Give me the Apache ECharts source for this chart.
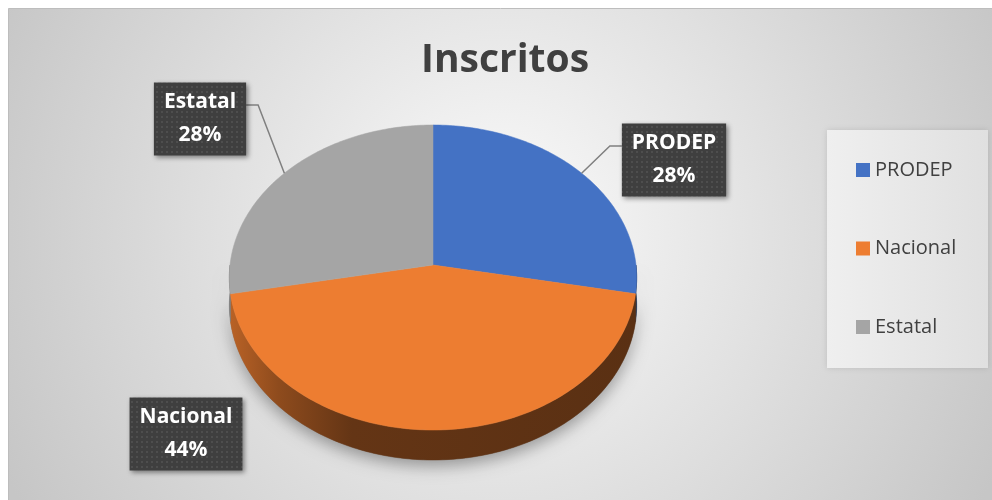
<!DOCTYPE html>
<html>
<head>
<meta charset="utf-8">
<script src="https://cdn.jsdelivr.net/npm/echarts@6/dist/echarts.min.js"></script>
<style>
  html, body { margin: 0; padding: 0; background: #fff; }
  #main { width: 992px; height: 500px; }
</style>
</head>
<body>
<div id="main"></div>
<script>
// data
const categories = ['PRODEP', 'Nacional', 'Estatal'];
const values = [28, 44, 28];

// styles / layout
const colors = ['#4472C4', '#ED7D31', '#A5A5A5'];
const pie = { cx: 433, cy: 265, rx: 203, ry: 151.5, k: 0.082, depth: 27.5 };
const labelPos = [[674, 160], [186, 434], [200, 119]];
const showLeader = [true, false, true];
const labelFont = 'bold 21px "Open Sans"';

const total = values.reduce((a, b) => a + b, 0);

// dotted fill for the data label boxes
const pat = document.createElement('canvas');
pat.width = 5;
pat.height = 5;
const pc = pat.getContext('2d');
pc.fillStyle = '#3f3f3f';
pc.fillRect(0, 0, 5, 5);
pc.fillStyle = '#4e4e4e';
pc.fillRect(1, 1, 2, 2);
const dotPattern = { image: pat, repeat: 'repeat' };

const mctx = document.createElement('canvas').getContext('2d');
mctx.font = labelFont;
function textWidth(t) {
  return mctx.measureText(t).width;
}

// angle in degrees, clockwise from 12 o'clock, with a bit of perspective
function project(deg, drop) {
  const t = deg * Math.PI / 180;
  const u = Math.sin(t), v = -Math.cos(t);
  const s = 1 / (1 - pie.k * v);
  return [pie.cx + pie.rx * u * s, pie.cy + (pie.ry * v + drop) * s];
}

function arc(a, b, drop) {
  const pts = [];
  const n = Math.max(2, Math.ceil(Math.abs(b - a)));
  for (let i = 0; i <= n; i++) {
    pts.push(project(a + (b - a) * i / n, drop));
  }
  return pts;
}

function shade(hex, f) {
  const n = parseInt(hex.slice(1), 16);
  const r = Math.round(((n >> 16) & 255) * f);
  const g = Math.round(((n >> 8) & 255) * f);
  const b = Math.round((n & 255) * f);
  return 'rgb(' + r + ',' + g + ',' + b + ')';
}

function wallFill(c) {
  return new echarts.graphic.LinearGradient(pie.cx - pie.rx, 0, pie.cx + pie.rx, 0, [
    { offset: 0, color: shade(c, 0.78) },
    { offset: 0.12, color: shade(c, 0.6) },
    { offset: 0.3, color: shade(c, 0.42) },
    { offset: 1, color: shade(c, 0.38) }
  ], true);
}

function renderSlice(params, api) {
  const i = params.dataIndex;
  let start = 0;
  for (let j = 0; j < i; j++) start += values[j];
  const a0 = start / total * 360;
  const a1 = (start + api.value(0)) / total * 360;
  const children = [];

  if (i === 0) {
    // shadow under the whole front wall
    const top = arc(90, 270, 0);
    const bottom = arc(270, 90, pie.depth);
    children.push({
      type: 'polygon', z2: 0,
      shape: { points: top.concat(bottom) },
      style: { fill: '#777', shadowBlur: 16, shadowOffsetY: 6, shadowColor: 'rgba(0,0,0,0.35)' }
    });
  }

  const w0 = Math.max(a0, 90), w1 = Math.min(a1, 270);
  if (w1 > w0) {
    const top = arc(w0, w1, 0);
    const bottom = arc(w1, w0, pie.depth);
    const f = wallFill(colors[i]);
    children.push({
      type: 'polygon', z2: 1,
      shape: { points: top.concat(bottom) },
      style: { fill: f, stroke: f, lineWidth: 0.5 }
    });
  }

  children.push({
    type: 'polygon', z2: 5,
    shape: { points: [[pie.cx, pie.cy]].concat(arc(a0, a1, 0)) },
    style: { fill: colors[i], stroke: colors[i], lineWidth: 0.5 }
  });

  // data label
  const name = categories[i];
  const pct = Math.round(api.value(0) / total * 100) + '%';
  const lx = labelPos[i][0], ly = labelPos[i][1];
  const w = Math.max(textWidth(name), textWidth(pct)) + 20;
  const h = 73;
  if (showLeader[i]) {
    const anchor = project((a0 + a1) / 2, 0);
    const side = anchor[0] > lx ? 1 : -1;
    const ex = lx + side * w / 2, ey = ly - 14;
    children.push({
      type: 'polyline', z2: 15,
      shape: { points: [[ex, ey], [ex + side * 12, ey], anchor] },
      style: { stroke: '#808080', lineWidth: 1.5, fill: null }
    });
  }
  children.push({
    type: 'rect', z2: 20,
    shape: { x: lx - w / 2, y: ly - h / 2, width: w, height: h },
    style: {
      fill: dotPattern,
      shadowBlur: 5, shadowOffsetX: 2, shadowOffsetY: 2, shadowColor: 'rgba(0,0,0,0.45)'
    }
  });
  children.push({
    type: 'text', z2: 21, x: lx, y: ly,
    style: {
      text: name + '\n' + pct,
      fill: '#fff',
      fontFamily: 'Open Sans', fontWeight: 'bold', fontSize: 21,
      lineHeight: 33,
      align: 'center', verticalAlign: 'middle'
    }
  });

  return { type: 'group', children: children };
}

const chart = echarts.init(document.getElementById('main'), null, { renderer: 'canvas' });

chart.setOption({
  animation: false,
  graphic: [
    {
      type: 'rect', z: -10,
      shape: { x: 8.5, y: 8.5, width: 984, height: 492 },
      style: {
        fill: {
          type: 'radial', x: 0.5, y: 0.45, r: 1.12,
          colorStops: [
            { offset: 0, color: '#fbfbfb' },
            { offset: 1, color: '#c6c6c6' }
          ]
        },
        stroke: '#bdbdbd', lineWidth: 1
      }
    },
    {
      type: 'rect', z: -5,
      shape: { x: 827, y: 130, width: 161, height: 238 },
      style: {
        fill: new echarts.graphic.LinearGradient(0, 0, 1, 0, [
          { offset: 0, color: '#efefef' },
          { offset: 1, color: '#e0e0e0' }
        ]),
        shadowBlur: 6, shadowColor: 'rgba(0,0,0,0.12)'
      }
    }
  ],
  title: {
    text: 'Inscritos',
    left: 505,
    top: 41,
    padding: 0,
    textAlign: 'center',
    textStyle: { fontFamily: 'Open Sans', fontWeight: 'bold', fontSize: 39, color: '#404040' }
  },
  legend: {
    data: categories,
    orient: 'vertical',
    left: 856,
    top: 160,
    padding: 0,
    icon: 'rect',
    itemWidth: 14,
    itemHeight: 14,
    itemGap: 58.5,
    selectedMode: false,
    textStyle: { fontFamily: 'Open Sans', fontSize: 20, color: '#404040', lineHeight: 20 }
  },
  series: [
    {
      type: 'custom',
      name: 'Inscritos',
      coordinateSystem: 'none',
      silent: true,
      renderItem: renderSlice,
      data: values.map((v, i) => ({ name: categories[i], value: [v] }))
    },
    {
      // invisible pie, only feeds the legend
      type: 'pie',
      radius: [0, 0],
      center: [pie.cx, pie.cy],
      silent: true,
      label: { show: false },
      labelLine: { show: false },
      data: values.map((v, i) => ({ name: categories[i], value: v, itemStyle: { color: colors[i] } }))
    }
  ]
});
</script>
</body>
</html>
